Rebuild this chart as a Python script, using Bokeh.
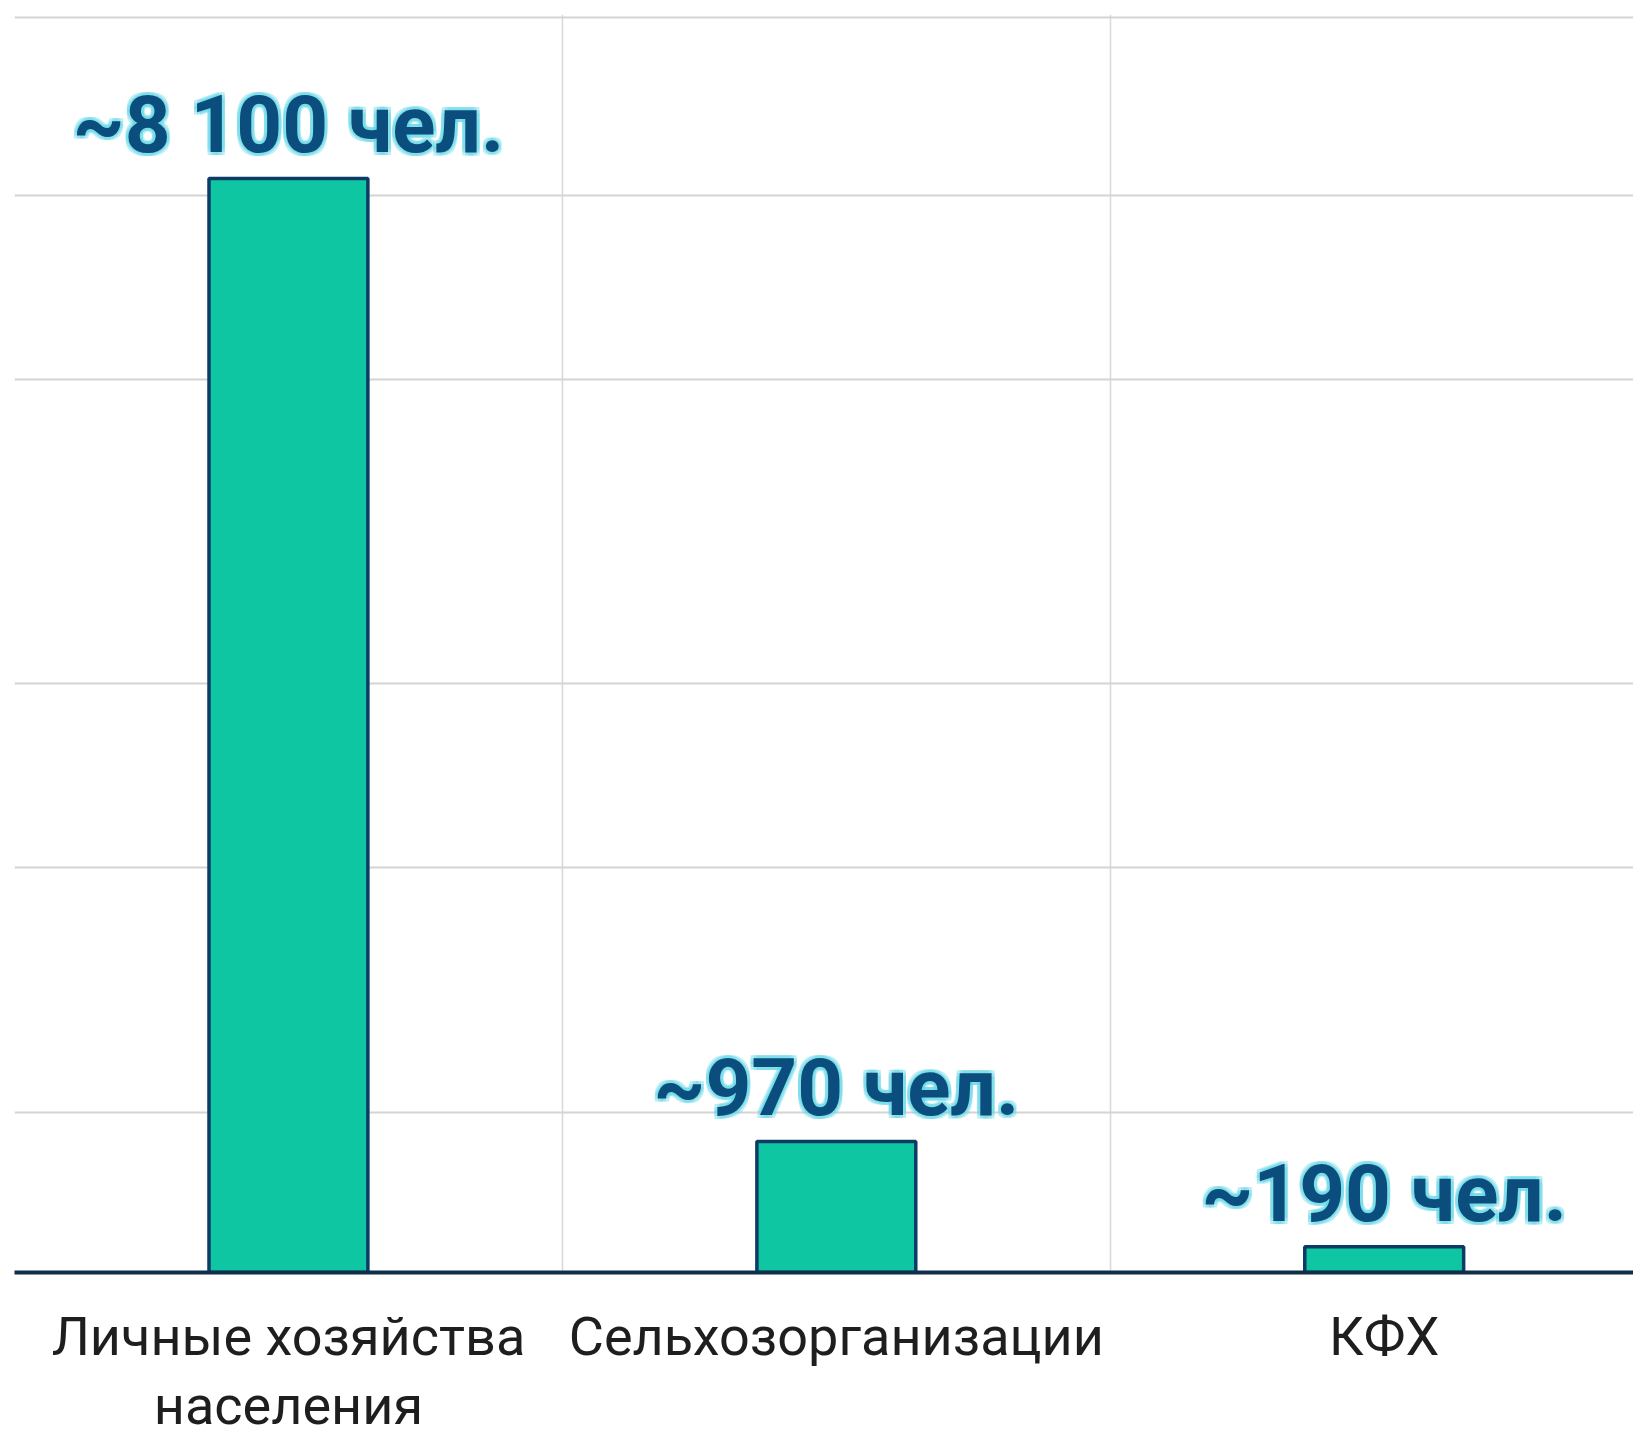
from bokeh.plotting import figure
from bokeh.models import ColumnDataSource, FixedTicker, Range1d
from bokeh.core.properties import value
from bokeh.embed import file_html
from bokeh.resources import INLINE

categories = ["Личные хозяйства\nнаселения", "Сельхозорганизации", "КФХ"]
counts = [8100, 970, 190]
value_labels = ["~8 100 чел.", "~970 чел.", "~190 чел."]
grid_values = [1185, 3000, 4360, 6610, 7975, 9290]

xs = [i + 0.5 for i in range(len(categories))]
src = ColumnDataSource(dict(x=xs, top=counts, lab=value_labels))

p = figure(frame_width=1619, frame_height=1258, output_backend="svg", toolbar_location=None,
           x_range=Range1d(0, 2.955), y_range=Range1d(0, 9314),
           min_border_left=14, min_border_right=0, min_border_top=14, min_border_bottom=0)
p.outline_line_color = None
p.background_fill_color = "white"
p.border_fill_color = "white"

p.vbar(x="x", top="top", bottom=0, width=0.29, source=src,
       fill_color="#0fc6a2", line_color="#0c3c66", line_width=3.5)

font = value("Roboto")
offs = [(dx, dy) for dx in (-3, 0, 3) for dy in (-3, 0, 3) if (dx, dy) != (0, 0)]
for dx, dy in offs:
    p.text(x="x", y="top", text="lab", source=src, text_font=font, text_font_style="bold",
           text_font_size="80px", text_align="center", text_baseline="bottom",
           x_offset=dx, y_offset=-6 + dy, text_color="#5fd8e6", text_alpha=0.4)
p.text(x="x", y="top", text="lab", source=src, text_font=font, text_font_style="bold",
       text_font_size="80px", text_align="center", text_baseline="bottom",
       x_offset=0, y_offset=-6, text_color="#0b4d7d")

p.yaxis.visible = False
p.ygrid.ticker = FixedTicker(ticks=grid_values)
p.ygrid.grid_line_color = "#d4d4d4"
p.ygrid.grid_line_width = 2

p.xaxis.ticker = FixedTicker(ticks=xs)
p.xaxis.major_label_overrides = {x: c for x, c in zip(xs, categories)}
p.xaxis.axis_line_color = "#0e2e4c"
p.xaxis.axis_line_width = 4
p.xaxis.major_tick_line_color = None
p.xaxis.minor_tick_line_color = None
p.xaxis.major_label_standoff = 26
p.xaxis.major_label_text_font = "Roboto"
p.xaxis.major_label_text_font_size = "54px"
p.xaxis.major_label_text_line_height = 1.1
p.xaxis.major_label_text_color = "#1e1e1e"
p.xaxis.major_label_text_align = "center"

p.xgrid.ticker = FixedTicker(ticks=[1, 2])
p.xgrid.grid_line_color = "#d8d8d8"
p.xgrid.grid_line_width = 1.5

open("out.html", "w").write(file_html(p, INLINE))
